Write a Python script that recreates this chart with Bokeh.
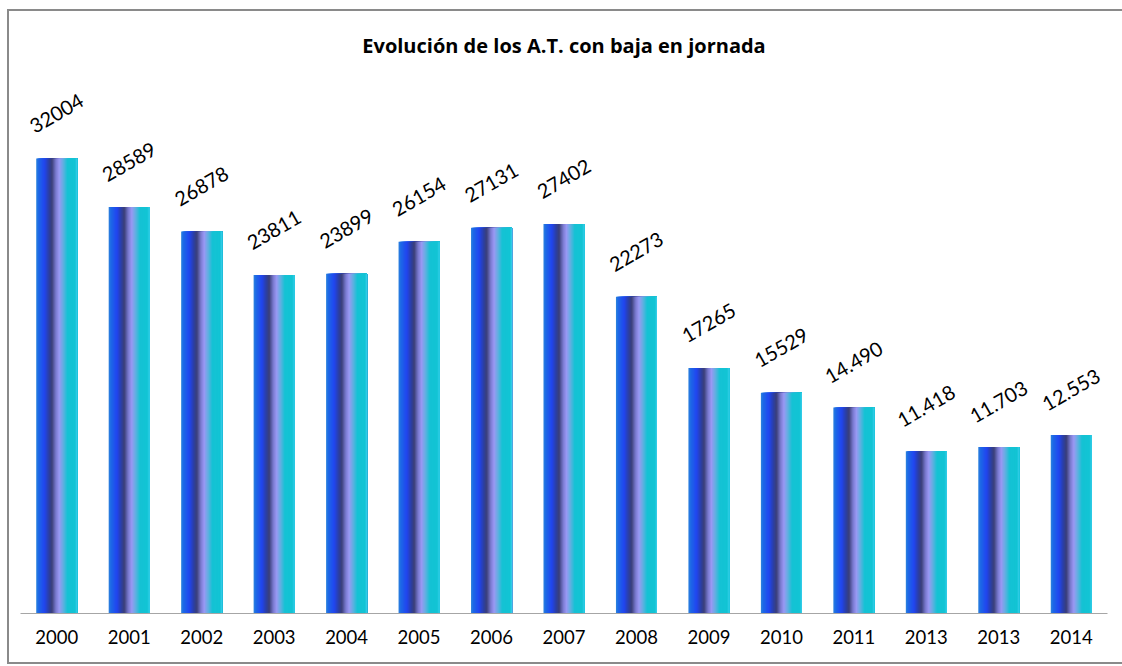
import numpy as np
from bokeh.plotting import figure
from bokeh.models import ColumnDataSource, Range1d, FixedTicker
from bokeh.core.properties import value
from bokeh.embed import file_html
from bokeh.resources import INLINE

# ---- data ----
years = ["2000", "2001", "2002", "2003", "2004", "2005", "2006", "2007",
         "2008", "2009", "2010", "2011", "2013", "2013", "2014"]
counts = [32004, 28589, 26878, 23811, 23899, 26154, 27131, 27402,
          22273, 17265, 15529, 14490, 11418, 11703, 12553]
count_labels = ["32004", "28589", "26878", "23811", "23899", "26154", "27131", "27402",
                "22273", "17265", "15529", "14.490", "11.418", "11.703", "12.553"]
title_text = "Evolución de los A.T. con baja en jornada"

# ---- style ----
bar_w = 0.566
n_strips = 40
stops_f = [0.00, 0.05, 0.20, 0.30, 0.38, 0.48, 0.56, 0.66, 0.76, 0.95, 1.00]
stops_c = ["#2f86dc", "#1d6ae6", "#2145f0", "#2b3fa8", "#3a3f78", "#7a7ad0",
           "#9a98f4", "#60b0e0", "#15c2d4", "#12c4d4", "#3ecfee"]


def hex2rgb(h):
    h = h.lstrip("#")
    return [int(h[i:i + 2], 16) for i in (0, 2, 4)]


rgb = np.array([hex2rgb(c) for c in stops_c], dtype=float)


def color_at(t):
    r = np.interp(t, stops_f, rgb[:, 0])
    g = np.interp(t, stops_f, rgb[:, 1])
    b = np.interp(t, stops_f, rgb[:, 2])
    return "#%02x%02x%02x" % (int(round(r)), int(round(g)), int(round(b)))


# each strip runs from its own left edge to the bar's right edge; later strips
# overlap earlier ones so no seams appear
sx, sw_col, stop, scol = [], [], [], []
step = bar_w / n_strips
for i, v in enumerate(counts):
    right = i + bar_w / 2
    for k in range(n_strips):
        left = i - bar_w / 2 + k * step
        sx.append((left + right) / 2)
        sw_col.append(right - left)
        stop.append(v)
        scol.append(color_at((k + 0.5) / n_strips))
strip_src = ColumnDataSource(dict(x=sx, w=sw_col, top=stop, color=scol))

lab_src = ColumnDataSource(dict(x=list(range(len(counts))), y=counts, text=count_labels))

ymax = 38194

p = figure(width=1120, height=655, output_backend="svg", toolbar_location=None,
           x_range=Range1d(-0.5, len(years) - 0.5), y_range=Range1d(0, ymax),
           min_border_left=11, min_border_right=22, min_border_top=59, min_border_bottom=53,
           title=title_text,
           styles={"border": "2px solid #8a8a8a", "box-sizing": "border-box",
                   "margin-left": "7px", "margin-top": "9px"})
p.title.align = "center"
p.title.text_font = "Open Sans"
p.title.text_font_style = "bold"
p.title.text_font_size = "20px"
p.title.text_color = "#000000"
p.title.standoff = 24
p.outline_line_color = None
p.background_fill_color = "white"
p.border_fill_color = "white"
p.xgrid.visible = False
p.ygrid.visible = False
p.yaxis.visible = False

p.vbar(x="x", top="top", bottom=0, width="w", fill_color="color",
       line_color=None, source=strip_src)

p.text(x="x", y="y", text="text", source=lab_src, angle=np.pi / 6,
       text_align="center", text_baseline="middle", y_offset=-45,
       text_font=value("Lato"), text_font_size="20px", text_color="#000000")

xa = p.xaxis[0]
xa.ticker = FixedTicker(ticks=list(range(len(years))))
xa.major_label_overrides = {i: y for i, y in enumerate(years)}
xa.major_tick_line_color = None
xa.minor_tick_line_color = None
xa.axis_line_color = "#a6a6a6"
xa.axis_line_width = 1
xa.major_label_text_font = "Lato"
xa.major_label_text_font_size = "18.5px"
xa.major_label_text_color = "#000000"
xa.major_label_standoff = 10

open("out.html", "w").write(file_html(p, INLINE))
